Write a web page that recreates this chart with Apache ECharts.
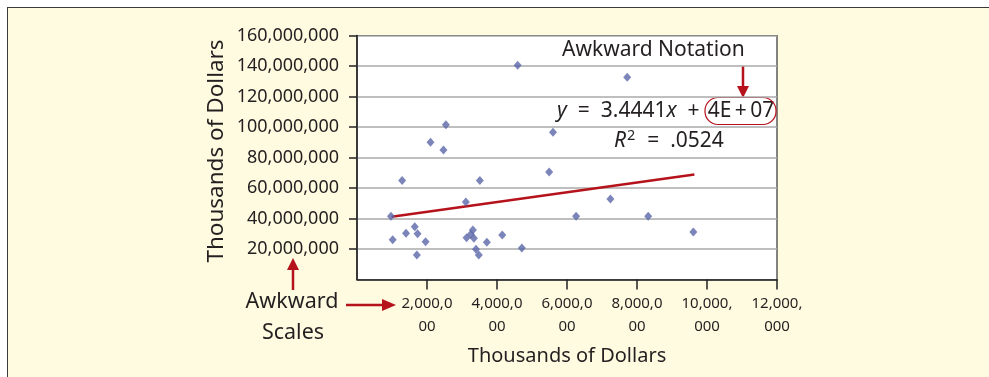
<!DOCTYPE html>
<html>
<head>
<meta charset="utf-8">
<script src="https://cdn.jsdelivr.net/npm/echarts@6/dist/echarts.min.js"></script>
<style>
  html, body { margin: 0; padding: 0; background: #ffffff; }
  #panel { position: absolute; left: 7px; top: 7px; width: 990px; height: 380px;
           background: #FEFBE1; border-left: 1.5px solid #3a3a3a; border-top: 1.5px solid #3a3a3a; }
  #chart { position: absolute; left: 0; top: 0; width: 989px; height: 377px; }
</style>
</head>
<body>
<div id="panel"></div>
<div id="chart"></div>
<script>
// ---- data ----
const xValues = [4590000, 7720000, 2540000, 5600000, 2100000, 2470000, 5490000, 1290000, 3510000, 7240000,
                 3110000, 970000, 6260000, 8320000, 1650000, 3310000, 9610000, 1400000, 1730000, 3250000,
                 4150000, 3130000, 3340000, 1020000, 1960000, 3710000, 4710000, 3400000, 1710000, 3480000];
const yValues = [140500000, 132600000, 101500000, 96500000, 90000000, 84900000, 70500000, 65000000, 65000000, 52800000,
                 50800000, 41400000, 41400000, 41400000, 34600000, 32500000, 31100000, 30300000, 30000000, 29600000,
                 29200000, 27400000, 27000000, 26100000, 24800000, 24400000, 20700000, 19800000, 16000000, 16100000];
const trendX = [990000, 9640000];
const trendY = [41200000, 68800000];
const xTickLabels = {2000000: '2,000,0\n00', 4000000: '4,000,0\n00', 6000000: '6,000,0\n00',
                     8000000: '8,000,0\n00', 10000000: '10,000,\n000', 12000000: '12,000,\n000'};
const yTickLabels = {20000000: '20,000,000', 40000000: '40,000,000', 60000000: '60,000,000', 80000000: '80,000,000',
                     100000000: '100,000,000', 120000000: '120,000,000', 140000000: '140,000,000', 160000000: '160,000,000'};
const axisTitle = 'Thousands of Dollars';

const FONT = '"Noto Sans", sans-serif';
const TXT = '#231f20';
const RED = '#b5121b';

const chart = echarts.init(document.getElementById('chart'), null, {renderer: 'canvas'});
const points = xValues.map((x, i) => [x, yValues[i]]);
const trend = trendX.map((x, i) => [x, trendY[i]]);

chart.setOption({
  animation: false,
  backgroundColor: 'transparent',
  grid: { left: 357, top: 35.5, width: 420, height: 244, show: true, backgroundColor: '#ffffff',
          borderColor: '#333333', borderWidth: 1.2 },
  xAxis: {
    type: 'value', min: 0, max: 12000000, interval: 2000000,
    name: axisTitle, nameLocation: 'middle', nameGap: 67,
    nameTextStyle: { fontFamily: FONT, fontSize: 20, color: TXT },
    axisLine: { show: true, lineStyle: { color: '#222', width: 1.5 } },
    axisTick: { show: true, inside: false, length: 10, lineStyle: { color: '#222', width: 1.5 } },
    splitLine: { show: false },
    axisLabel: { showMinLabel: false, margin: 13, fontFamily: FONT, fontSize: 15, color: TXT, lineHeight: 23,
                 formatter: v => xTickLabels[v] || '' }
  },
  yAxis: {
    type: 'value', min: 0, max: 160000000, interval: 20000000,
    axisLine: { show: true, lineStyle: { color: '#222', width: 1.5 } },
    axisTick: { show: true, inside: false, length: 8, lineStyle: { color: '#222', width: 1.5 } },
    splitLine: { show: true, lineStyle: { color: '#aaaaaa', width: 1.5 } },
    axisLabel: { showMinLabel: false, margin: 18, fontFamily: FONT, fontSize: 18, color: TXT,
                 formatter: v => yTickLabels[v] || '' }
  },
  series: [
    { type: 'line', data: trend, symbol: 'none', lineStyle: { color: RED, width: 2.5 }, z: 2 },
    { type: 'scatter', data: points, symbol: 'diamond', symbolSize: [8, 9],
      itemStyle: { color: '#5a67a8' }, z: 3 }
  ],
  graphic: [
    { type: 'text', x: 217, y: 151, rotation: Math.PI / 2,
      style: { text: axisTitle, font: '22.5px ' + FONT, fill: TXT, align: 'center', verticalAlign: 'middle' } },
    { type: 'text', x: 562, y: 50, style: { text: 'Awkward Notation', font: '21px ' + FONT, fill: TXT,
      align: 'left', verticalAlign: 'middle' } },
    { type: 'line', shape: { x1: 743, y1: 66, x2: 743, y2: 88 }, style: { stroke: RED, lineWidth: 2.5 } },
    { type: 'polygon', shape: { points: [[737, 86], [749, 86], [743, 98]] }, style: { fill: RED } },
    { type: 'text', x: 705, y: 111, style: {
      text: '{i|y}  =  3.4441{i|x}  + ', align: 'right', verticalAlign: 'middle',
      font: '21px ' + FONT, fill: TXT,
      rich: { i: { font: 'italic 21px ' + FONT, fill: TXT } } } },
    { type: 'text', x: 741, y: 111, style: {
      text: '4E\u2009+\u200907', align: 'center', verticalAlign: 'middle', font: '21px ' + FONT, fill: TXT } },
    { type: 'rect', shape: { x: 705, y: 97.5, width: 71, height: 27, r: 13 },
      style: { fill: 'none', stroke: RED, lineWidth: 1.2 } },
    { type: 'text', x: 614, y: 141, style: {
      text: '{i|R}{s|2}  =  .0524', align: 'left', verticalAlign: 'middle',
      font: '21px ' + FONT, fill: TXT,
      rich: { i: { font: 'italic 21px ' + FONT, fill: TXT },
              s: { font: '14.5px ' + FONT, fill: TXT, verticalAlign: 'top', padding: [0, 1, 10, 1] } } } },
    { type: 'text', x: 292, y: 302, style: { text: 'Awkward', font: '21.5px ' + FONT, fill: TXT,
      align: 'center', verticalAlign: 'middle' } },
    { type: 'text', x: 293, y: 333, style: { text: 'Scales', font: '21.5px ' + FONT, fill: TXT,
      align: 'center', verticalAlign: 'middle' } },
    { type: 'line', shape: { x1: 293, y1: 290, x2: 293, y2: 268 }, style: { stroke: RED, lineWidth: 2.5 } },
    { type: 'polygon', shape: { points: [[287, 270], [299, 270], [293, 258]] }, style: { fill: RED } },
    { type: 'line', shape: { x1: 346, y1: 305, x2: 384, y2: 305 }, style: { stroke: RED, lineWidth: 2.5 } },
    { type: 'polygon', shape: { points: [[382, 299], [382, 311], [396, 305]] }, style: { fill: RED } }
  ]
});
</script>
</body>
</html>
